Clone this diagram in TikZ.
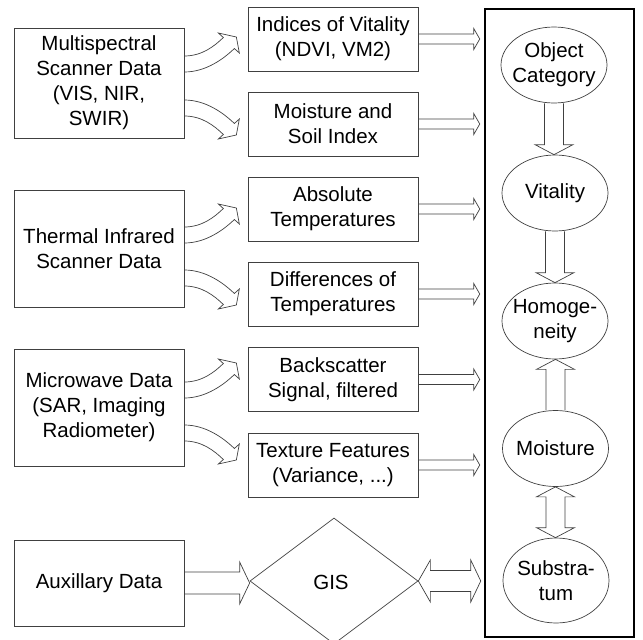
\documentclass[tikz,border=0pt]{standalone}
\usepackage{fontspec}
\setmainfont{Liberation Sans}
\usetikzlibrary{shapes.geometric,calc}

\tikzset{
  every node/.style={font=\fontsize{20.5pt}{25pt}\selectfont, text=black},
  thinline/.style={draw=black!75, line width=0.7pt},
  databox/.style={thinline, minimum width=170pt, align=center, inner sep=0pt},
  featbox/.style={thinline, minimum width=170pt, minimum height=64pt, align=center, inner sep=0pt},
  propnode/.style={ellipse, thinline, minimum width=106pt, minimum height=76pt, inner sep=0pt},
  proptext/.style={align=center, inner sep=0pt},
  blockarrow/.style={thinline, line join=miter},
}

% straight block arrows, built from node anchors
\newcommand\arrowright[5]{% from, to, shaft half, head half, head length
  \draw[blockarrow] let \p1=(#1), \p2=(#2) in
    (\x1,\y1+#3) -- (\x2-#5,\y1+#3) -- (\x2-#5,\y1+#4) -- (\x2,\y1)
    -- (\x2-#5,\y1-#4) -- (\x2-#5,\y1-#3) -- (\x1,\y1-#3);}
\newcommand\arrowboth[6]{% left, right, shaft half, head half, left head, right head
  \draw[blockarrow] let \p1=(#1), \p2=(#2) in
    (\x1,\y1) -- (\x1+#5,\y1+#4) -- (\x1+#5,\y1+#3) -- (\x2-#6,\y1+#3)
    -- (\x2-#6,\y1+#4) -- (\x2,\y1) -- (\x2-#6,\y1-#4) -- (\x2-#6,\y1-#3)
    -- (\x1+#5,\y1-#3) -- (\x1+#5,\y1-#4) -- cycle;}
\newcommand\arrowdown[2]{% upper node south, lower node north
  \draw[blockarrow] let \p1=(#1), \p2=(#2) in
    (\x1-9.5pt,\y1) -- (\x1-9.5pt,\y2+10pt) -- (\x1-19pt,\y2+10pt) -- (\x1,\y2)
    -- (\x1+19pt,\y2+10pt) -- (\x1+9.5pt,\y2+10pt) -- (\x1+9.5pt,\y1);}
\newcommand\arrowup[2]{% lower node north, upper node south
  \draw[blockarrow] let \p1=(#1), \p2=(#2) in
    (\x1-9.5pt,\y1) -- (\x1-9.5pt,\y2-10pt) -- (\x1-19pt,\y2-10pt) -- (\x1,\y2)
    -- (\x1+19pt,\y2-10pt) -- (\x1+9.5pt,\y2-10pt) -- (\x1+9.5pt,\y1);}
\newcommand\arrowupdown[2]{% upper node south, lower node north
  \draw[blockarrow] let \p1=(#1), \p2=(#2) in
    (\x1,\y1) -- (\x1+19pt,\y1-10pt) -- (\x1+9.5pt,\y1-10pt) -- (\x1+9.5pt,\y2+10pt)
    -- (\x1+19pt,\y2+10pt) -- (\x1,\y2) -- (\x1-19pt,\y2+10pt) -- (\x1-9.5pt,\y2+10pt)
    -- (\x1-9.5pt,\y1-10pt) -- (\x1-19pt,\y1-10pt) -- cycle;}
% bent block arrow leaving a data box; #2 = 1 bends upwards, -1 downwards
\newcommand\bentarrow[2]{%
  \begin{scope}[shift={#1}, yscale=#2]
    \draw[blockarrow] (0,-8) .. controls (18,-8) and (30.4,-18.2) .. (39,-26.5)
      -- (34,-31) -- (52,-27) -- (55,-11) -- (50,-15.5)
      .. controls (40,-5.8) and (22,8) .. (0,8);
  \end{scope}}

\begin{document}
\begin{tikzpicture}[x=1pt,y=-1pt]
\useasboundingbox (0,0) rectangle (643,640);

% sensor data
\node[databox, minimum height=110pt] (ms)  at (99,83)    {Multispectral\\Scanner Data\\(VIS, NIR,\\SWIR)};
\node[databox, minimum height=117pt] (tir) at (99,248.5) {Thermal Infrared\\Scanner Data};
\node[databox, minimum height=117pt] (mw)  at (99,407.5) {Microwave Data\\(SAR, Imaging\\Radiometer)};
\node[databox, minimum height=86pt]  (aux) at (99,583)   {Auxillary Data};

% derived features
\node[featbox] (ndvi) at (333,39)    {Indices of Vitality\\(NDVI, VM2)};
\node[featbox] (soil) at (333,124)   {Moisture and\\Soil Index};
\node[featbox] (abst) at (333,209)   {Absolute\\Temperatures};
\node[featbox] (dift) at (333,294)   {Differences of\\Temperatures};
\node[featbox] (back) at (333,379.5) {Backscatter\\Signal, filtered};
\node[featbox] (text) at (333,465)   {Texture Features\\(Variance, ...)};

\node[diamond, thinline, minimum width=168pt, minimum height=126pt, inner sep=0pt] (gis) at (334,581) {};
\node[proptext] (gisT) at (331,582) {GIS};

% object properties
\node[draw=black, line width=2.5pt, minimum width=149pt, minimum height=628pt, inner sep=0pt] (frame) at (559.5,323) {};
\node[propnode] (oc)  at (554,65)    {};
\node[propnode] (vit) at (555,193)   {};
\node[propnode] (hom) at (555,321)   {};
\node[propnode] (moi) at (555.5,448.5) {};
\node[propnode, minimum height=85pt] (sub) at (556,580.5) {};
\node[proptext] (ocT)  at (oc)  {Object\\Category};
\node[proptext] (vitT) at (vit) {Vitality};
\node[proptext] (homT) at (hom) {Homoge-\\neity};
\node[proptext] (moiT) at (moi) {Moisture};
\node[proptext] (subT) at (sub) {Substra-\\tum};

% data to features
\bentarrow{($(ms.east)+(0,-19)$)}{1}
\bentarrow{($(ms.east)+(0,25)$)}{-1}
\bentarrow{($(tir.east)+(0,-13.5)$)}{1}
\bentarrow{($(tir.east)+(0,29.5)$)}{-1}
\bentarrow{($(mw.east)+(0,-17.5)$)}{1}
\bentarrow{($(mw.east)+(0,25.5)$)}{-1}
\arrowright{aux.east}{gis.west}{11pt}{21pt}{10pt}

% features to properties
\foreach \f in {ndvi,soil,abst,dift,back,text}
  \arrowright{\f.east}{$(frame.west)+(-4,0)$}{5pt}{10.5pt}{6pt};
\arrowboth{gis.east}{$(frame.west)+(-3,0)$}{10.5pt}{21pt}{12pt}{10pt}

% relations between properties
\arrowdown{oc.south}{vit.north}
\arrowdown{vit.south}{hom.north}
\arrowup{moi.north}{hom.south}
\arrowupdown{moi.south}{sub.north}
\end{tikzpicture}
\end{document}
